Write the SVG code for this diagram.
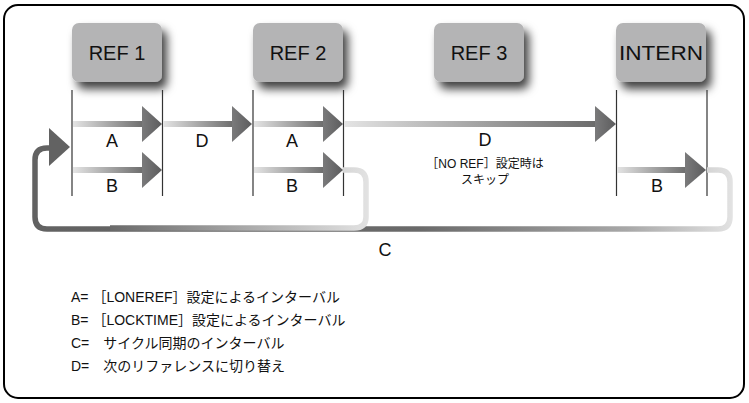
<svg xmlns="http://www.w3.org/2000/svg" width="749" height="403" viewBox="0 0 749 403">
<defs>
<style>
.t{font-family:"Liberation Sans","Noto Sans CJK JP",sans-serif;fill:#111}
.node{fill:#b4b4b5}
.lbl{font-size:20px;text-anchor:middle}
.ab{font-size:18px;text-anchor:middle}
.sm{font-size:12px;text-anchor:middle}
.lg{font-size:14px}
.vl{stroke:#333;stroke-width:1.2;fill:none}
.shaft{fill:url(#gShaft)}
.head{fill:url(#gHead)}
</style>
<filter id="sh" x="-30%" y="-30%" width="170%" height="180%">
<feDropShadow dx="5" dy="7" stdDeviation="5" flood-color="#000" flood-opacity="0.75"/>
</filter>
<linearGradient id="gShaft" x1="0" y1="0" x2="1" y2="0">
<stop offset="0" stop-color="#e4e4e4"/>
<stop offset="0.6" stop-color="#9a9a9a"/>
<stop offset="1" stop-color="#6a6a6a"/>
</linearGradient>
<linearGradient id="gHead" x1="0" y1="0" x2="1" y2="0">
<stop offset="0" stop-color="#7a7a7b"/>
<stop offset="1" stop-color="#5c5c5d"/>
</linearGradient>
<linearGradient id="gLoop" gradientUnits="userSpaceOnUse" x1="35" y1="0" x2="732" y2="0">
<stop offset="0" stop-color="#626262"/>
<stop offset="0.55" stop-color="#6a6a6a"/>
<stop offset="0.85" stop-color="#a8a8a8"/>
<stop offset="1" stop-color="#e2e2e2"/>
</linearGradient>
<linearGradient id="gLoop2" gradientUnits="userSpaceOnUse" x1="110" y1="0" x2="368" y2="0">
<stop offset="0" stop-color="#6a6a6a"/>
<stop offset="1" stop-color="#e2e2e2"/>
</linearGradient>
</defs>

<rect x="4" y="5" width="740" height="393" rx="14" fill="#fff" stroke="#000" stroke-width="2"/>

<g id="node-ref1">
<rect class="node" x="72" y="23" width="90" height="59" rx="7" filter="url(#sh)"/>
<text class="t lbl" x="117" y="60">REF 1</text>
</g>
<g id="node-ref2">
<rect class="node" x="253" y="23" width="90" height="59" rx="7" filter="url(#sh)"/>
<text class="t lbl" x="298" y="60">REF 2</text>
</g>
<g id="node-ref3">
<rect class="node" x="434" y="23" width="90" height="59" rx="7" filter="url(#sh)"/>
<text class="t lbl" x="479" y="60">REF 3</text>
</g>
<g id="node-intern">
<rect class="node" x="616" y="23" width="90" height="59" rx="7" filter="url(#sh)"/>
<text class="t lbl" x="661" y="60" textLength="84" lengthAdjust="spacingAndGlyphs">INTERN</text>
</g>

<g id="connectors">
<line class="vl" x1="72" y1="90" x2="72" y2="196"/>
<line class="vl" x1="162.5" y1="90" x2="162.5" y2="196"/>
<line class="vl" x1="253" y1="90" x2="253" y2="196"/>
<line class="vl" x1="343.5" y1="90" x2="343.5" y2="196"/>
<line class="vl" x1="616.5" y1="90" x2="616.5" y2="196"/>
<line class="vl" x1="707" y1="90" x2="707" y2="196"/>

<path d="M707 170 H718 Q730 170 730 182 V217 Q730 229 718 229 H47 Q35 229 35 217 V160 Q35 148 47 148 H52" fill="none" stroke="url(#gLoop)" stroke-width="5.5"/>
<path d="M343 170 H354 Q366 170 366 182 V217 Q366 228 354 228 H110" fill="none" stroke="url(#gLoop2)" stroke-width="5.5"/>
<polygon points="49,128 70,147 49,166" fill="#626262"/>

<rect class="shaft" x="73" y="121" width="72" height="6"/>
<polygon class="head" points="142,106 162,124 142,142"/>
<rect class="shaft" x="163" y="121" width="72" height="6"/>
<polygon class="head" points="232,106 252,124 232,142"/>
<rect class="shaft" x="254" y="121" width="72" height="6"/>
<polygon class="head" points="323,106 343,124 323,142"/>
<rect class="shaft" x="344" y="121" width="254" height="6"/>
<polygon class="head" points="595,106 616,124 595,142"/>

<rect class="shaft" x="73" y="167" width="72" height="6"/>
<polygon class="head" points="142,152 162,170 142,188"/>
<rect class="shaft" x="254" y="167" width="72" height="6"/>
<polygon class="head" points="323,152 343,170 323,188"/>
<rect class="shaft" x="617" y="167" width="71" height="6"/>
<polygon class="head" points="685,152 706,170 685,188"/>

<text class="t ab" x="112" y="147">A</text>
<text class="t ab" x="202" y="147">D</text>
<text class="t ab" x="292" y="147">A</text>
<text class="t ab" x="485" y="146">D</text>
<text class="t sm" x="485" y="168">［NO REF］設定時は</text>
<text class="t sm" x="485" y="184">スキップ</text>
<text class="t ab" x="112" y="192">B</text>
<text class="t ab" x="292" y="192">B</text>
<text class="t ab" x="657" y="192">B</text>
<text class="t ab" x="385" y="256">C</text>
</g>

<g id="legend">
<text class="t lg" x="71" y="302">A= ［LONEREF］設定によるインターバル</text>
<text class="t lg" x="71" y="325">B= ［LOCKTIME］設定によるインターバル</text>
<text class="t lg" x="71" y="348">C=　サイクル同期のインターバル</text>
<text class="t lg" x="71" y="371">D=　次のリファレンスに切り替え</text>
</g>
</svg>
